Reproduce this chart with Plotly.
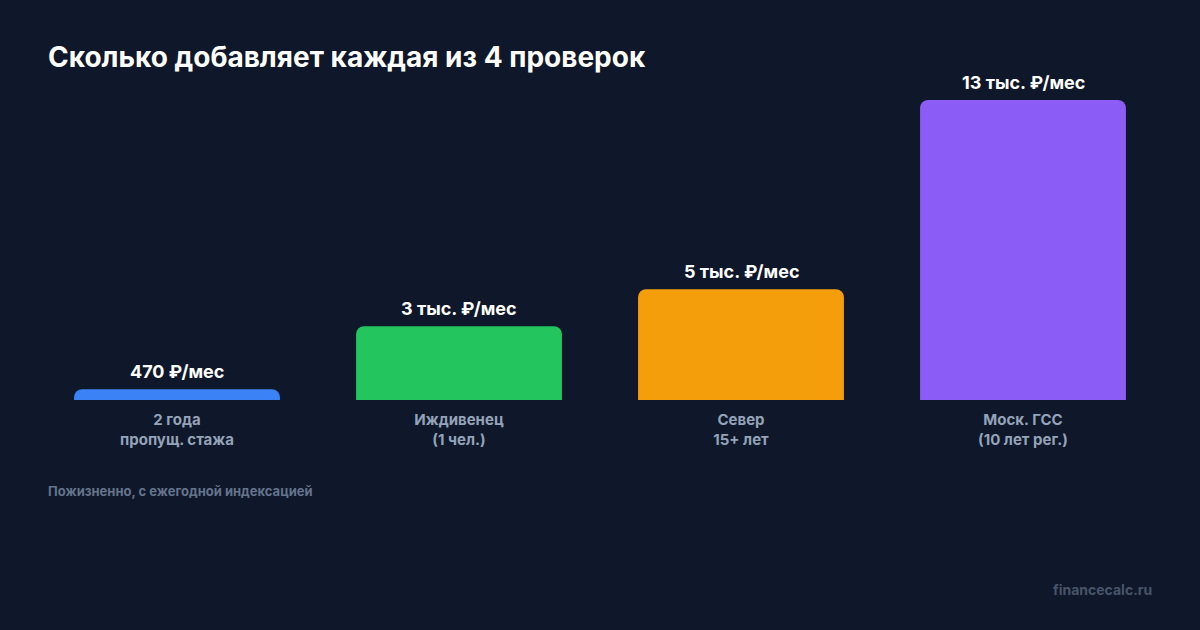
import plotly.graph_objects as go

# данные
categories = ["2 года<br>пропущ. стажа", "Иждивенец<br>(1 чел.)", "Север<br>15+ лет", "Моск. ГСС<br>(10 лет рег.)"]
values = [470, 3200, 4800, 13000]
value_labels = ["470 ₽/мес", "3 тыс. ₽/мес", "5 тыс. ₽/мес", "13 тыс. ₽/мес"]
colors = ["#3b82f6", "#22c55e", "#f59e0b", "#8b5cf6"]

BG = "#0f172a"
FONT = "Inter, Roboto, sans-serif"

fig = go.Figure()

fig.add_trace(go.Bar(
    x=categories,
    y=values,
    marker=dict(color=colors, line=dict(width=0)),
    width=0.73,
    hoverinfo="skip",
))

# подписи значений над столбиками
for cat, val, lab in zip(categories, values, value_labels):
    fig.add_annotation(
        x=cat, y=val, text=lab, showarrow=False,
        yanchor="bottom", yshift=5,
        font=dict(family=FONT, size=18, color="#ffffff", weight="bold"),
    )

fig.update_layout(
    width=1200, height=630,
    paper_bgcolor=BG, plot_bgcolor=BG,
    margin=dict(l=36, r=36, t=100, b=230),
    barcornerradius=8,
    showlegend=False,
    font=dict(family=FONT),
    xaxis=dict(
        showgrid=False, zeroline=False, showline=False, ticks="",
        tickfont=dict(family=FONT, size=15, color="#94a3b8", weight="bold"),
        ticklabelstandoff=9,
        range=[-0.5, 3.5], fixedrange=True,
    ),
    yaxis=dict(
        visible=False, range=[0, 13000], fixedrange=True,
    ),
)

fig.add_annotation(
    text="Сколько добавляет каждая из 4 проверок",
    xref="paper", yref="paper", x=0.0106, y=1.1433, xshift=-2,
    xanchor="left", yanchor="middle", showarrow=False,
    font=dict(family=FONT, size=28, color="#ffffff", weight="bold"),
)
fig.add_annotation(
    text="Пожизненно, с ежегодной индексацией",
    xref="paper", yref="paper", x=0.0106, y=-0.3033, xshift=-2,
    xanchor="left", yanchor="middle", showarrow=False,
    font=dict(family=FONT, size=13, color="#64748b", weight="bold"),
)
fig.add_annotation(
    text="financecalc.ru",
    xref="paper", yref="paper", x=0.9894, y=-0.6333, xshift=2,
    xanchor="right", yanchor="middle", showarrow=False,
    font=dict(family=FONT, size=14, color="#475569", weight="bold"),
)

fig.write_html("out.html", config={"displayModeBar": False},
               post_script="document.body.style.margin='0';")
